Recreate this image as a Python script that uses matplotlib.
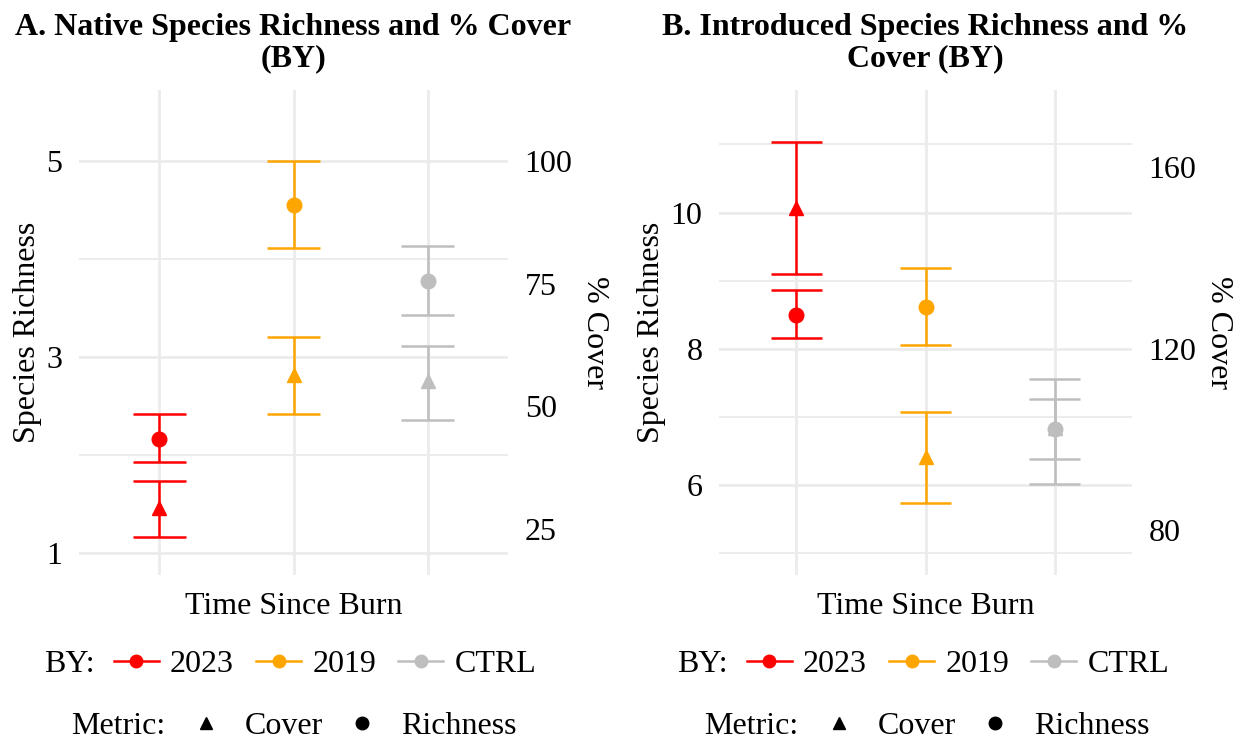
"""
Native / introduced species richness and % cover by burn year
"""

import matplotlib

matplotlib.use("Agg")
import matplotlib.pyplot as plt
from matplotlib.lines import Line2D

plt.rcParams["font.family"] = ["Liberation Serif", "DejaVu Serif"]

# burn year groups (x order)
groups = ["2023", "2019", "CTRL"]
colors = ["#FF0000", "#FFA500", "#BEBEBE"]

# panel A: native
nat_rich = [2.17, 4.555, 3.78]
nat_rich_lo = [1.93, 4.12, 3.43]
nat_rich_hi = [2.42, 5.0, 4.14]
nat_cover = [29.3, 56.4, 55.1]
nat_cover_lo = [23.3, 48.4, 47.2]
nat_cover_hi = [34.8, 64.1, 62.4]
nat_scale = 20
nat_rich_ticks = [1, 3, 5]
nat_cover_ticks = [25, 50, 75, 100]

# panel B: introduced
int_rich = [8.5, 8.62, 6.83]
int_rich_lo = [8.16, 8.06, 6.39]
int_rich_hi = [8.87, 9.18, 7.26]
int_cover = [151, 96.2, 102.5]
int_cover_lo = [136.5, 86, 90.2]
int_cover_hi = [165.5, 106, 113.4]
int_scale = 15
int_rich_ticks = [6, 8, 10]
int_cover_ticks = [80, 120, 160]

W, H = 1239, 742
FS = 23
GRID = "#EBEBEB"


def fx(px):
    return px / W


def fy(py):
    return 1 - py / H


def draw_panel(ax, title, rich, rlo, rhi, cov, clo, chi, scale, rticks, cticks, ylim):
    x = list(range(1, len(groups) + 1))
    for i in range(len(groups)):
        c = colors[i]
        # cover (on richness scale)
        ax.errorbar(x[i], cov[i] / scale,
                    yerr=[[(cov[i] - clo[i]) / scale], [(chi[i] - cov[i]) / scale]],
                    fmt="none", ecolor=c, elinewidth=1.8, capsize=0, zorder=3)
        ax.plot(x[i], cov[i] / scale, marker="^", ms=10.5, color=c, ls="none", zorder=4)
        # richness
        ax.errorbar(x[i], rich[i], yerr=[[rich[i] - rlo[i]], [rhi[i] - rich[i]]],
                    fmt="none", ecolor=c, elinewidth=1.8, capsize=0, zorder=3)
        ax.plot(x[i], rich[i], marker="o", ms=10.5, color=c, ls="none", zorder=4)
        # caps, width 0.4 like geom_errorbar
        for v in [clo[i] / scale, chi[i] / scale, rlo[i], rhi[i]]:
            ax.hlines(v, x[i] - 0.2, x[i] + 0.2, color=c, lw=1.8, zorder=3)

    ax.set_xticks(x)
    ax.set_xticklabels([])
    ax.set_yticks(rticks)
    ax.set_yticks([t + 1 for t in rticks[:-1]] + [rticks[0] - 1, rticks[-1] + 1], minor=True)
    ax.set_xlim(0.4, 3.6)
    ax.set_ylim(*ylim)
    ax.grid(True, which="major", color=GRID, lw=2.0)
    ax.grid(True, which="minor", axis="y", color=GRID, lw=1.3)
    ax.set_axisbelow(True)
    for s in ax.spines.values():
        s.set_visible(False)
    ax.tick_params(axis="both", which="both", length=0, labelsize=FS, pad=12)
    ax.set_ylabel("Species Richness", fontsize=FS, labelpad=3)
    ax.set_xlabel("Time Since Burn", fontsize=FS, labelpad=0)
    ax.set_title(title, fontsize=FS, fontweight="bold", pad=17, linespacing=1.1)

    sec = ax.secondary_yaxis("right", functions=(lambda r: r * scale, lambda c: c / scale))
    sec.set_yticks(cticks)
    for s in sec.spines.values():
        s.set_visible(False)
    sec.tick_params(length=0, labelsize=FS, pad=12)
    sec.set_ylabel("% Cover", fontsize=FS, rotation=270, labelpad=26)


def draw_legends(cx):
    fig.text(fx(cx - 248), fy(664), "BY:", fontsize=FS, ha="left", va="center")
    by_handles = [Line2D([], [], color=c, lw=1.8, marker="o", ms=9) for c in colors]
    fig.legend(by_handles, groups, loc="center left",
               bbox_to_anchor=(fx(cx - 178), fy(664)), ncol=3, frameon=False,
               fontsize=FS, borderpad=0, borderaxespad=0, handlelength=1.4,
               handletextpad=0.35, columnspacing=0.7)
    fig.text(fx(cx - 221), fy(727), "Metric:", fontsize=FS, ha="left", va="center")
    m_handles = [Line2D([], [], color="black", ls="none", marker=m, ms=9) for m in ["^", "o"]]
    fig.legend(m_handles, ["Cover", "Richness"], loc="center left",
               bbox_to_anchor=(fx(cx - 102), fy(726)), ncol=2, frameon=False,
               fontsize=FS, borderpad=0, borderaxespad=0, handlelength=1.0,
               handletextpad=0.7, columnspacing=0.75)


fig = plt.figure(figsize=(W / 100, H / 100), dpi=100)
axA = fig.add_axes([fx(79), fy(575), fx(429), 485 / H])
axB = fig.add_axes([fx(719), fy(575), fx(413), 485 / H])

draw_panel(axA, "A. Native Species Richness and % Cover\n(BY)",
           nat_rich, nat_rich_lo, nat_rich_hi, nat_cover, nat_cover_lo, nat_cover_hi,
           nat_scale, nat_rich_ticks, nat_cover_ticks, (0.776, 5.73))
draw_panel(axB, "B. Introduced Species Richness and %\nCover (BY)",
           int_rich, int_rich_lo, int_rich_hi, int_cover, int_cover_lo, int_cover_hi,
           int_scale, int_rich_ticks, int_cover_ticks, (4.68, 11.8))

draw_legends(292)
draw_legends(925)

fig.savefig("out.png", dpi=100)
